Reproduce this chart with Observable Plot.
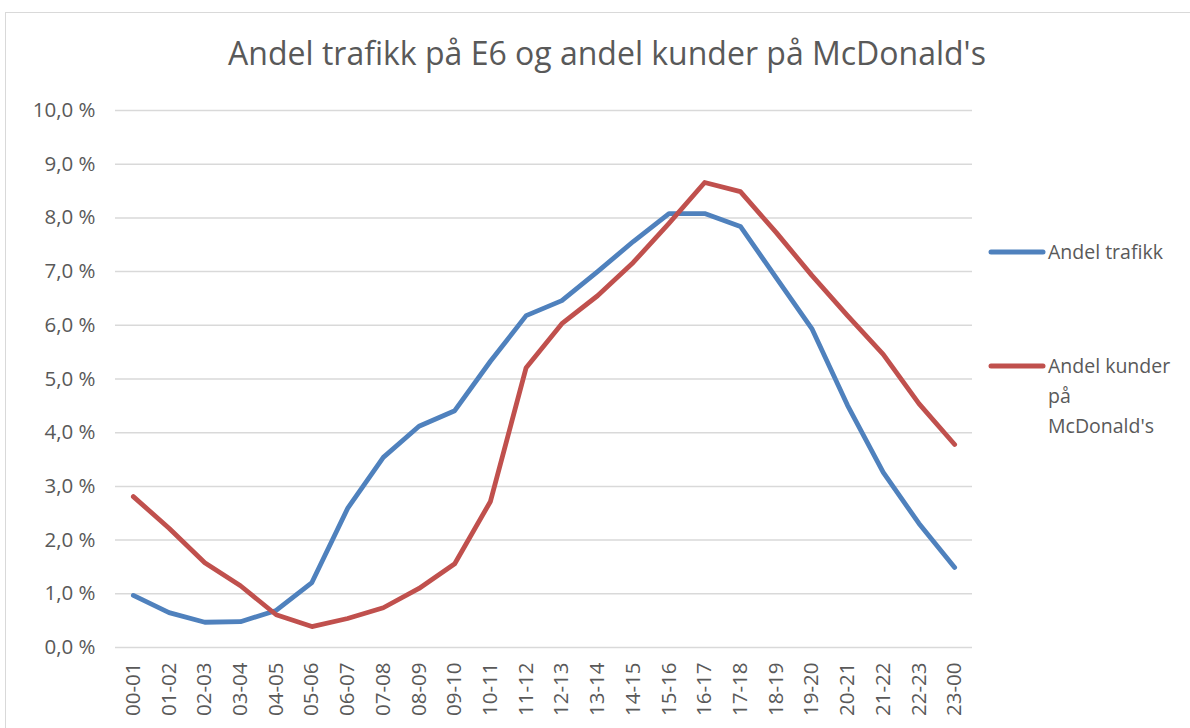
<!DOCTYPE html>
<html>
<head>
<meta charset="utf-8">
<script src="https://cdn.jsdelivr.net/npm/d3@7"></script>
<script src="https://cdn.jsdelivr.net/npm/@observablehq/plot@0.6"></script>
<style>
  html, body { margin: 0; padding: 0; background: #fff; }
  body { width: 1190px; height: 728px; overflow: hidden; position: relative; font-family: "Open Sans", Lato, sans-serif; color: #595959; }
  #frame { position: absolute; left: 5px; top: 12px; width: 1200px; height: 740px; border: 1px solid #d9d9d9; box-sizing: border-box; }
  #title { position: absolute; left: 0; top: 31px; width: 1214px; text-align: center; font-size: 32px; line-height: 44px; color: #595959; }
  #chart { position: absolute; left: 0; top: 85px; }
  .leg { position: absolute; font-size: 19.5px; line-height: 30px; color: #595959; }
  .leg svg { position: absolute; left: -60px; top: 0; }
</style>
</head>
<body>
<div id="frame"></div>
<div id="title">Andel trafikk på E6 og andel kunder på McDonald's</div>
<div id="chart"></div>
<div class="leg" style="left:1048px; top:237px;"><svg width="58" height="30"><line x1="3" y1="15" x2="55" y2="15" stroke="#4F81BD" stroke-width="5" stroke-linecap="round"/></svg>Andel trafikk</div>
<div class="leg" style="left:1048px; top:351px;"><svg width="58" height="30"><line x1="3" y1="15" x2="55" y2="15" stroke="#C0504D" stroke-width="5" stroke-linecap="round"/></svg>Andel kunder<br>på<br>McDonald's</div>
<script>
const hours = ["00-01","01-02","02-03","03-04","04-05","05-06","06-07","07-08","08-09","09-10","10-11","11-12","12-13","13-14","14-15","15-16","16-17","17-18","18-19","19-20","20-21","21-22","22-23","23-00"];
const trafikk = [0.97,0.65,0.47,0.48,0.69,1.21,2.59,3.54,4.12,4.41,5.33,6.18,6.46,7.00,7.56,8.08,8.08,7.84,6.89,5.94,4.51,3.26,2.31,1.49];
const kunder = [2.81,2.22,1.58,1.15,0.61,0.39,0.54,0.74,1.10,1.56,2.72,5.21,6.03,6.55,7.17,7.90,8.66,8.49,7.73,6.93,6.18,5.46,4.54,3.78];
const yTicks = [0,1,2,3,4,5,6,7,8,9,10];
const seriesNames = ["Andel trafikk","Andel kunder på McDonald's"];
const seriesColors = ["#4F81BD","#C0504D"];

const rows = [];
hours.forEach((h, i) => {
  rows.push({hour: h, value: trafikk[i], series: seriesNames[0]});
});
hours.forEach((h, i) => {
  rows.push({hour: h, value: kunder[i], series: seriesNames[1]});
});

const fmt = d => d.toFixed(1).replace(".", ",") + " %";

const chart = Plot.plot({
  width: 1190,
  height: 643,
  marginTop: 25,
  marginBottom: 81,
  marginLeft: 115,
  marginRight: 218,
  style: {fontFamily: "'Open Sans', Lato, sans-serif", fontSize: "20.5px", color: "#595959", background: "transparent"},
  x: {type: "point", domain: hours, padding: 0.5, round: false},
  y: {domain: [0, 10]},
  color: {domain: seriesNames, range: seriesColors},
  marks: [
    Plot.gridY(yTicks, {stroke: "#d9d9d9", strokeOpacity: 1, strokeWidth: 1.5}),
    Plot.axisY(yTicks, {tickFormat: fmt, label: null, tickSize: 0, tickPadding: 20, fontSize: 20.5}),
    Plot.axisX(hours, {label: null, tickRotate: -90, tickSize: 0, tickPadding: 15, fontSize: 20.5}),
    Plot.line(rows, {x: "hour", y: "value", z: "series", stroke: "series", strokeWidth: 4.8, strokeLinecap: "round", strokeLinejoin: "round"})
  ]
});
document.getElementById("chart").appendChild(chart);
</script>
</body>
</html>
